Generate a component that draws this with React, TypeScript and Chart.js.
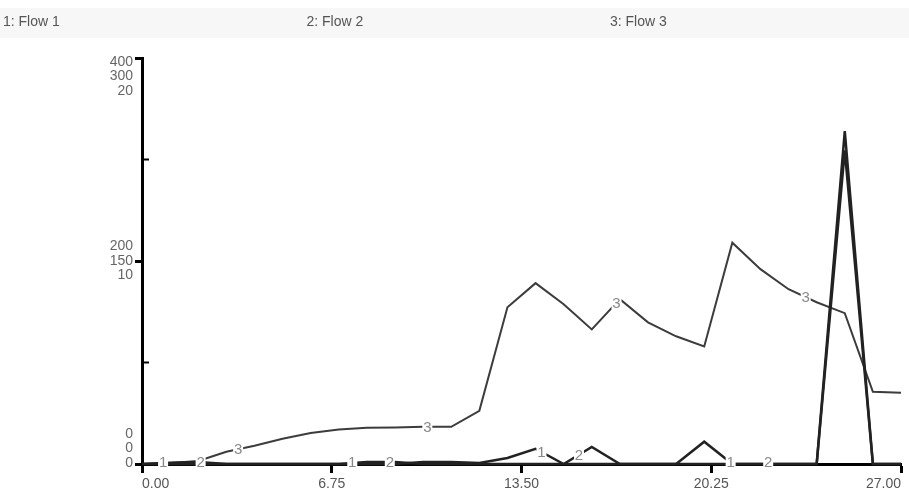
import React, { useEffect, useRef } from 'react';
import { Chart, registerables } from 'chart.js';

Chart.register(...registerables);

const seriesNames = ['Flow 1', 'Flow 2', 'Flow 3'];
const timePoints = [0, 1, 2, 3, 4, 5, 6, 7, 8, 9, 10, 11, 12, 13, 14, 15, 16, 17, 18, 19, 20, 21, 22, 23, 24, 25, 26, 27];
const flow1 = [0, 0, 0, 0, 0, 0, 0, 0, 0, 0, 2, 2, 1, 6, 15, 0, 0, 0, 0, 0, 22, 0, 0, 0, 0, 309, 0, 0];
const flow2 = [0, 1, 1.5, 0, 0, 0, 0, 0, 1.5, 1.5, 0, 0, 0, 0, 0, 0, 12.6, 0, 0, 0, 0, 0, 0, 0, 0, 246, 0, 0];
const flow3 = [0, 0.05, 0.15, 0.6, 0.9, 1.24, 1.53, 1.7, 1.78, 1.8, 1.83, 1.83, 2.62, 7.72, 8.91, 7.87, 6.63, 8.12, 6.98, 6.29, 5.79, 10.9, 9.6, 8.61, 7.97, 7.43, 3.56, 3.51];
const xTicks = [0, 6.75, 13.5, 20.25, 27];
const y1Ticks = [0, 200, 400];
const y2Ticks = [0, 150, 300];
const y3Ticks = [0, 10, 20];

const FONT = "'Liberation Sans', Arial, sans-serif";
const seriesValues = [flow1, flow2, flow3];
const axisIds = ['y1', 'y2', 'y3'];
const tickSets = [y1Ticks, y2Ticks, y3Ticks];

function interp(values: number[], t: number): number {
  for (let i = 0; i < timePoints.length - 1; i++) {
    const a = timePoints[i];
    const b = timePoints[i + 1];
    if (t >= a && t <= b) {
      const f = (t - a) / (b - a);
      return values[i] + (values[i + 1] - values[i]) * f;
    }
  }
  return values[values.length - 1];
}

const decorPlugin = {
  id: 'decor',
  beforeDraw(chart: any) {
    const { ctx, width, height } = chart;
    ctx.save();
    ctx.fillStyle = '#ffffff';
    ctx.fillRect(0, 0, width, height);
    ctx.fillStyle = '#f7f7f7';
    ctx.fillRect(0, 8, width, 30);
    ctx.font = `14px ${FONT}`;
    ctx.fillStyle = '#555';
    ctx.textBaseline = 'middle';
    ctx.textAlign = 'left';
    chart.data.datasets.forEach((ds: any, i: number) => {
      ctx.fillText(`${i + 1}: ${ds.label}`, 3 + i * 303.5, 22);
    });
    ctx.restore();
  },
  afterDraw(chart: any) {
    const { ctx } = chart;
    const xs = chart.scales.x;
    const left = chart.chartArea.left;
    ctx.save();
    ctx.font = `14px ${FONT}`;
    ctx.fillStyle = '#666';
    ctx.textAlign = 'right';
    ctx.textBaseline = 'middle';
    const ys = chart.scales.y1;
    for (let j = 0; j < y1Ticks.length; j++) {
      const ty = ys.getPixelForValue(y1Ticks[j]);
      const aligned = y1Ticks.length - 1 - j;
      const extra = j === y1Ticks.length - 1 ? 4 : j === 0 ? -1 : 0;
      for (let s = 0; s < 3; s++) {
        ctx.fillText(String(tickSets[s][j]), left - 9, ty + (s - aligned) * 14.5 + extra);
      }
    }
    ctx.strokeStyle = '#000';
    ctx.lineWidth = 2;
    [100, 300].forEach((v) => {
      const py = ys.getPixelForValue(v);
      ctx.beginPath();
      ctx.moveTo(left, py);
      ctx.lineTo(left + 7, py);
      ctx.stroke();
    });
    ctx.font = `15px ${FONT}`;
    ctx.textAlign = 'center';
    ctx.textBaseline = 'middle';
    for (let i = 0; i < 3; i++) {
      const sc = chart.scales[axisIds[i]];
      for (let k = 0; k < 4; k++) {
        const t = 0.75 + i * 1.335 + k * 6.73;
        const v = interp(seriesValues[i], t);
        const px = xs.getPixelForValue(t);
        const py = Math.min(sc.getPixelForValue(v), sc.getPixelForValue(0) - 2);
        ctx.fillStyle = '#ffffff';
        ctx.fillRect(px - 5, py - 7, 10, 14);
        ctx.fillStyle = '#888';
        ctx.fillText(String(i + 1), px, py + 1);
      }
    }
    ctx.restore();
  },
};

export default function App() {
  const ref = useRef<HTMLCanvasElement | null>(null);
  useEffect(() => {
    document.body.style.margin = '0';
    const canvas = ref.current;
    if (!canvas) return;
    const datasets = seriesValues.map((vals, i) => ({
      label: seriesNames[i],
      data: timePoints.map((t, k) => ({ x: t, y: vals[k] })),
      yAxisID: axisIds[i],
      borderColor: i === 2 ? '#3c3c3c' : '#222222',
      borderWidth: i === 2 ? 2 : 2.5,
      pointRadius: 0,
      tension: 0,
      fill: false,
      clip: false as any,
    }));
    const hiddenY = (max: number) => ({
      type: 'linear' as const,
      display: false,
      min: 0,
      max,
    });
    const chart = new Chart(canvas, {
      type: 'line',
      data: { datasets },
      options: {
        animation: false,
        responsive: false,
        devicePixelRatio: 1,
        layout: { padding: { left: 0, right: 8, top: 58, bottom: 0 } },
        plugins: { legend: { display: false }, tooltip: { enabled: false } },
        scales: {
          x: {
            type: 'linear',
            min: 0,
            max: 27,
            afterBuildTicks: (s: any) => {
              s.ticks = xTicks.map((v) => ({ value: v }));
            },
            afterFit: (s: any) => {
              s.height = 31;
            },
            ticks: {
              align: 'inner',
              color: '#555',
              font: { family: FONT, size: 14 },
              padding: 3,
              maxRotation: 0,
              callback: (v: any) => Number(v).toFixed(2),
            },
            grid: {
              drawOnChartArea: false,
              tickLength: 9,
              tickColor: '#000',
              tickWidth: 3,
            },
            border: { color: '#000', width: 3 },
          },
          y1: {
            type: 'linear',
            position: 'left',
            min: 0,
            max: 400,
            afterBuildTicks: (s: any) => {
              s.ticks = y1Ticks.map((v) => ({ value: v }));
            },
            afterFit: (s: any) => {
              s.width = 142;
            },
            ticks: { display: false },
            grid: {
              drawOnChartArea: false,
              tickLength: 7,
              tickColor: '#000',
              tickWidth: 3,
            },
            border: { color: '#000', width: 3 },
          },
          y2: hiddenY(300),
          y3: hiddenY(20),
        },
      },
      plugins: [decorPlugin],
    });
    return () => chart.destroy();
  }, []);
  return (
    <div style={{ width: 909, height: 495 }}>
      <canvas ref={ref} width={909} height={495} style={{ display: 'block' }} />
    </div>
  );
}
